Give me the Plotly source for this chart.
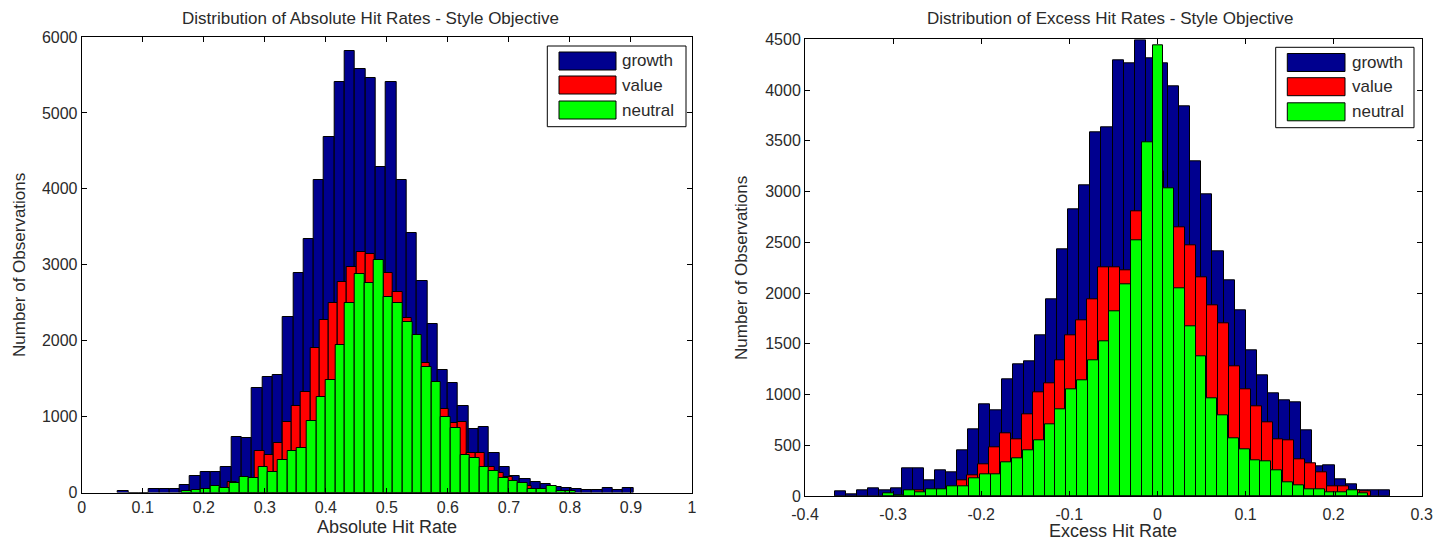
import numpy as np
import plotly.graph_objects as go

# ---------------- data ----------------
series_names = ["growth", "value", "neutral"]
series_colors = ["#00008F", "#FF0000", "#00FF00"]

# Left panel: Absolute hit rate histograms (each series has its own 50-bin grid)
abs_growth_start, abs_growth_width = 0.0595, 0.01689
abs_growth = [20, 0, 0, 42, 42, 42, 99, 217, 274, 274, 340, 735, 714, 1373, 1518,
              1548, 2316, 2888, 3336, 4117, 4688, 5412, 5821, 5580, 5457, 4292, 5412,
              4117, 3415, 2791, 2220, 1614, 1447, 1144, 837, 867, 525, 332, 217, 178,
              143, 112, 77, 64, 50, 33, 33, 55, 33, 55]
abs_value_start, abs_value_width = 0.2389, 0.01508
abs_value = [140, 120, 180, 551, 494, 656, 933, 1144, 1320, 1908, 2273, 2501, 2777,
             2967, 3165, 3142, 3000, 2896, 2646, 2295, 2000, 1710, 1450, 1100, 920,
             933, 516, 516, 332, 253, 208, 120, 80, 50, 30]
abs_neutral_start, abs_neutral_width = 0.1639, 0.01574
abs_neutral = [24, 30, 42, 86, 64, 130, 204, 187, 332, 274, 428, 551, 590, 942, 1262,
               1482, 1943, 2501, 2879, 2756, 3063, 2572, 2501, 2250, 2071, 1649, 1460,
               999, 854, 494, 450, 332, 283, 187, 152, 130, 42, 42, 86, 24, 24]

# Right panel: Excess hit rate histograms
exc_growth_start, exc_growth_width = -0.3659, 0.0126
exc_growth = [49, 17, 59, 72, 59, 72, 273, 273, 151, 256, 230, 453, 660, 906, 847,
              1153, 1300, 1330, 1586, 1938, 2434, 2828, 3058, 3583, 3633, 4296, 4263,
              4493, 4312, 4263, 4040, 3843, 3301, 2973, 2407, 2121, 1833, 1439, 1192,
              1012, 939, 920, 650, 289, 299, 164, 118, 59, 59, 59]
exc_value_start, exc_value_width = -0.2775, 0.01237
exc_value = [59, 0, 20, 50, 150, 207, 315, 476, 618, 562, 808, 1022, 1110, 1340, 1580,
             1734, 1941, 2253, 2256, 2220, 2808, 3000, 3200, 2900, 2644, 2473, 2155,
             1882, 1701, 1274, 1051, 887, 726, 562, 545, 365, 322, 234, 92, 92, 59, 45]
exc_neutral_start, exc_neutral_width = -0.3118, 0.01225
exc_neutral = [30, 5, 52, 35, 66, 69, 99, 99, 174, 217, 217, 332, 374, 447, 552, 706,
               854, 1051, 1143, 1340, 1520, 1823, 2086, 2516, 3485, 4444, 3032, 2046,
               1668, 1373, 962, 798, 568, 460, 355, 338, 249, 131, 108, 66, 66, 36, 36,
               52, 26]

abs_xticks = [0, 0.1, 0.2, 0.3, 0.4, 0.5, 0.6, 0.7, 0.8, 0.9, 1]
abs_xtick_labels = ["0", "0.1", "0.2", "0.3", "0.4", "0.5", "0.6", "0.7", "0.8", "0.9", "1"]
abs_yticks = [0, 1000, 2000, 3000, 4000, 5000, 6000]
exc_xticks = [-0.4, -0.3, -0.2, -0.1, 0, 0.1, 0.2, 0.3]
exc_xtick_labels = ["-0.4", "-0.3", "-0.2", "-0.1", "0", "0.1", "0.2", "0.3"]
exc_yticks = [0, 500, 1000, 1500, 2000, 2500, 3000, 3500, 4000, 4500]

left_title = "Distribution of Absolute Hit Rates - Style Objective"
right_title = "Distribution of Excess Hit Rates - Style Objective"
left_xlabel = "Absolute Hit Rate"
right_xlabel = "Excess Hit Rate"
ylabel = "Number of Observations"

# ---------------- figure ----------------
# The page body has an 8px margin, so the figure is drawn 8px in from the
# top-left corner of the window; size it to end at the window's edges.
OFF = 8
W, H = 1448 - OFF, 544 - OFF
FONT = "Liberation Sans, Arial, sans-serif"
TXT = "#2a2a2a"


def px_x(x):
    return (x - OFF) / W


def px_y(y):
    return 1 - (y - OFF) / H


def centers(start, width, counts):
    return start + (np.arange(len(counts)) + 0.5) * width


fig = go.Figure()

left = [(abs_growth_start, abs_growth_width, abs_growth),
        (abs_value_start, abs_value_width, abs_value),
        (abs_neutral_start, abs_neutral_width, abs_neutral)]
right = [(exc_growth_start, exc_growth_width, exc_growth),
         (exc_value_start, exc_value_width, exc_value),
         (exc_neutral_start, exc_neutral_width, exc_neutral)]

for (start, width, counts), name, color in zip(left, series_names, series_colors):
    fig.add_trace(go.Bar(x=centers(start, width, counts), y=counts, width=width,
                         name=name, xaxis="x", yaxis="y", showlegend=False,
                         marker=dict(color=color, line=dict(color="black", width=1))))
for (start, width, counts), name, color in zip(right, series_names, series_colors):
    fig.add_trace(go.Bar(x=centers(start, width, counts), y=counts, width=width,
                         name=name, xaxis="x2", yaxis="y2", showlegend=False,
                         marker=dict(color=color, line=dict(color="black", width=1))))

axis_common = dict(showline=True, linecolor="black", linewidth=1, mirror="ticks",
                   ticks="inside", ticklen=5, tickcolor="black", showgrid=False,
                   zeroline=False, automargin=False,
                   tickfont=dict(family=FONT, size=16, color=TXT))

fig.update_layout(
    width=W, height=H, autosize=False,
    margin=dict(l=0, r=0, t=0, b=0, pad=0, autoexpand=False),
    paper_bgcolor="white", plot_bgcolor="white", barmode="overlay", bargap=0,
    showlegend=False,
    xaxis=dict(domain=[px_x(81.7), px_x(692)], range=[0, 1], anchor="y",
               tickvals=abs_xticks, ticktext=abs_xtick_labels, **axis_common),
    yaxis=dict(domain=[px_y(492.5), px_y(37)], range=[0, 6000], anchor="x",
               tickvals=abs_yticks, **axis_common),
    xaxis2=dict(domain=[px_x(805), px_x(1421.7)], range=[-0.4, 0.3], anchor="y2",
                tickvals=exc_xticks, ticktext=exc_xtick_labels,
                ticklabelstandoff=4, **axis_common),
    yaxis2=dict(domain=[px_y(496), px_y(39.3)], range=[0, 4500], anchor="x2",
                tickvals=exc_yticks, **axis_common),
)

annotations = []


def text(x, y, s, size, angle=0, xanchor="center"):
    annotations.append(dict(x=px_x(x), y=px_y(y), xref="paper", yref="paper", text=s,
                            showarrow=False, textangle=angle, xanchor=xanchor,
                            yanchor="middle",
                            font=dict(family=FONT, size=size, color=TXT)))


text(370, 18, left_title, 17)
text(1110, 18, right_title, 17)
text(387, 527, left_xlabel, 18)
text(1113, 531, right_xlabel, 18)
text(19, 265, ylabel, 17, angle=-90)
text(741, 268, ylabel, 17, angle=-90)

shapes = []


def legend(box, sw_x, rows, txt_x):
    x0, y0, x1, y1 = box
    shapes.append(dict(type="rect", xref="paper", yref="paper",
                       x0=px_x(x0), x1=px_x(x1), y0=px_y(y1), y1=px_y(y0),
                       line=dict(color="black", width=1), fillcolor="white"))
    for (cy, name, color) in zip(rows, series_names, series_colors):
        shapes.append(dict(type="rect", xref="paper", yref="paper",
                           x0=px_x(sw_x[0]), x1=px_x(sw_x[1]),
                           y0=px_y(cy + 9), y1=px_y(cy - 9),
                           line=dict(color="black", width=1), fillcolor=color))
        text(txt_x, cy, name, 17, xanchor="left")


legend((547.3, 46, 686, 126.7), (559, 616), (61, 85, 110), 620)
legend((1275.7, 47.3, 1414, 127.7), (1287.3, 1345), (62.5, 86.7, 111.8), 1350)

fig.update_layout(annotations=annotations, shapes=shapes)
fig.write_html("out.html")
